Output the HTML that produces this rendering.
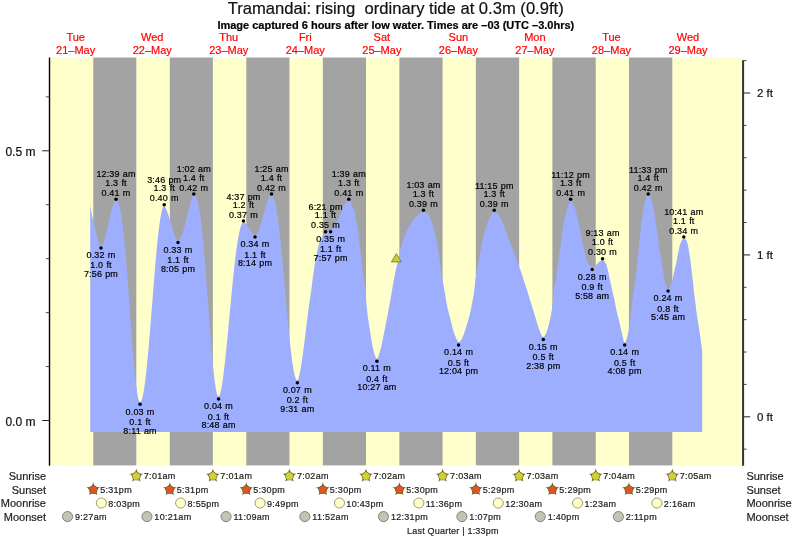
<!DOCTYPE html>
<html><head><meta charset="utf-8"><title>Tramandai tide times</title>
<style>
html,body{margin:0;padding:0;background:#fff;}
body{width:793px;height:539px;overflow:hidden;position:relative;font-family:"Liberation Sans",sans-serif;}
#c{position:absolute;left:0;top:0;width:793px;height:539px;overflow:hidden;}
svg{position:absolute;left:0;top:0;}
.t{position:absolute;white-space:nowrap;-webkit-text-stroke:0.2px currentColor;font-family:"Liberation Sans",sans-serif;}
#tx{position:absolute;left:0;top:0;width:793px;height:539px;will-change:transform;transform:translateZ(0);}
</style></head><body><div id="c">
<svg width="793" height="539" viewBox="0 0 793 539">
<rect x="49.5" y="57.5" width="693.5" height="407.9" fill="#ffffcc"/>
<rect x="93.26" y="57.5" width="43.05" height="407.9" fill="#a3a3a3"/>
<rect x="169.80" y="57.5" width="43.05" height="407.9" fill="#a3a3a3"/>
<rect x="246.29" y="57.5" width="43.16" height="407.9" fill="#a3a3a3"/>
<rect x="322.83" y="57.5" width="43.16" height="407.9" fill="#a3a3a3"/>
<rect x="399.37" y="57.5" width="43.21" height="407.9" fill="#a3a3a3"/>
<rect x="475.86" y="57.5" width="43.27" height="407.9" fill="#a3a3a3"/>
<rect x="552.40" y="57.5" width="43.32" height="407.9" fill="#a3a3a3"/>
<rect x="628.94" y="57.5" width="43.37" height="407.9" fill="#a3a3a3"/>
<path d="M90.20,432.0L90.20,205.23L90.71,208.21L91.23,211.11L91.74,213.79L92.25,216.24L92.76,218.53L93.28,220.74L93.79,222.98L94.30,225.26L94.82,227.54L95.33,229.76L95.84,231.87L96.35,233.92L96.87,235.98L97.38,237.96L97.89,239.73L98.41,241.18L98.92,242.38L99.43,243.57L99.94,244.60L100.46,245.32L100.97,245.59L101.47,245.47L101.97,245.10L102.47,244.50L102.98,243.66L103.48,242.59L103.98,241.32L104.48,239.85L104.98,238.19L105.48,236.37L105.98,234.41L106.49,232.32L106.99,230.13L107.49,227.87L107.99,225.56L108.49,223.22L108.99,220.88L109.49,218.57L110.00,216.31L110.50,214.12L111.00,212.03L111.50,210.07L112.00,208.25L112.50,206.59L113.00,205.12L113.51,203.84L114.01,202.78L114.51,201.94L115.01,201.33L115.51,200.97L116.01,200.85L116.51,200.91L117.01,201.16L117.51,201.64L118.02,202.40L118.52,203.45L119.02,204.81L119.52,206.49L120.02,208.52L120.52,210.89L121.02,213.61L121.52,216.68L122.02,220.11L122.52,223.88L123.02,228.00L123.52,232.45L124.02,237.22L124.52,242.30L125.02,247.68L125.52,253.33L126.02,259.24L126.52,265.37L127.02,271.72L127.52,278.24L128.03,284.92L128.53,291.72L129.03,298.61L129.53,305.55L130.03,312.51L130.53,319.46L131.03,326.36L131.53,333.17L132.03,339.86L132.53,346.39L133.03,352.72L133.53,358.81L134.03,364.63L134.53,370.15L135.03,375.32L135.53,380.12L136.03,384.51L136.53,388.47L137.03,391.97L137.54,394.98L138.04,397.48L138.54,399.45L139.04,400.87L139.54,401.73L140.04,402.02L140.54,401.81L141.05,401.18L141.55,400.14L142.05,398.68L142.56,396.82L143.06,394.57L143.56,391.92L144.07,388.90L144.57,385.52L145.08,381.79L145.58,377.73L146.08,373.35L146.59,368.67L147.09,363.72L147.60,358.51L148.10,353.07L148.60,347.42L149.11,341.59L149.61,335.59L150.11,329.46L150.62,323.23L151.12,316.91L151.63,310.53L152.13,304.13L152.63,297.73L153.14,291.35L153.64,285.03L154.15,278.79L154.65,272.66L155.15,266.67L155.66,260.83L156.16,255.18L156.66,249.74L157.17,244.54L157.67,239.59L158.18,234.91L158.68,230.53L159.18,226.47L159.69,222.74L160.19,219.35L160.70,216.34L161.20,213.69L161.70,211.43L162.21,209.58L162.71,208.12L163.21,207.08L163.72,206.45L164.22,206.24L164.73,206.53L165.24,207.28L165.75,208.32L166.26,209.46L166.77,210.57L167.28,211.81L167.79,213.21L168.30,214.73L168.81,216.30L169.32,217.86L169.83,219.47L170.34,221.16L170.85,222.88L171.36,224.60L171.87,226.31L172.38,228.06L172.89,229.80L173.40,231.48L173.91,233.03L174.42,234.51L174.93,235.93L175.44,237.13L175.95,238.00L176.46,238.81L176.97,239.51L177.48,240.01L177.99,240.20L178.50,240.07L179.01,239.71L179.52,239.18L180.03,238.54L180.54,237.83L181.04,237.02L181.55,235.89L182.06,234.54L182.57,233.08L183.08,231.47L183.59,229.64L184.10,227.69L184.61,225.74L185.12,223.85L185.63,221.95L186.14,220.01L186.65,218.02L187.16,215.93L187.66,213.77L188.17,211.59L188.68,209.42L189.19,207.18L189.70,204.97L190.21,202.93L190.72,201.04L191.23,199.26L191.74,197.91L192.25,197.02L192.76,196.23L193.27,195.67L193.78,195.45L194.28,195.50L194.79,195.71L195.29,196.13L195.80,196.79L196.30,197.72L196.81,198.93L197.31,200.44L197.82,202.26L198.32,204.41L198.83,206.89L199.34,209.71L199.84,212.86L200.35,216.35L200.85,220.18L201.36,224.33L201.86,228.80L202.37,233.58L202.87,238.65L203.38,244.01L203.89,249.63L204.39,255.50L204.90,261.58L205.40,267.87L205.91,274.32L206.41,280.93L206.92,287.65L207.42,294.45L207.93,301.30L208.43,308.18L208.94,315.04L209.45,321.85L209.95,328.57L210.46,335.18L210.96,341.62L211.47,347.87L211.97,353.88L212.48,359.63L212.98,365.08L213.49,370.20L214.00,374.94L214.50,379.29L215.01,383.20L215.51,386.67L216.02,389.65L216.52,392.12L217.03,394.07L217.53,395.48L218.04,396.34L218.54,396.62L219.05,396.23L219.56,395.27L220.07,393.82L220.58,391.94L221.09,389.65L221.60,387.00L222.11,384.00L222.61,380.67L223.12,377.05L223.63,373.16L224.14,369.02L224.65,364.64L225.16,360.06L225.67,355.30L226.18,350.38L226.68,345.32L227.19,340.14L227.70,334.86L228.21,329.51L228.72,324.11L229.23,318.68L229.74,313.24L230.25,307.81L230.75,302.41L231.26,297.06L231.77,291.77L232.28,286.58L232.79,281.49L233.30,276.52L233.81,271.69L234.32,267.01L234.82,262.51L235.33,258.19L235.84,254.06L236.35,250.15L236.86,246.46L237.37,243.00L237.88,239.79L238.39,236.83L238.89,234.13L239.40,231.70L239.91,229.54L240.42,227.66L240.93,226.06L241.44,224.75L241.95,223.73L242.46,223.00L242.96,222.57L243.47,222.42L243.97,222.48L244.48,222.65L244.98,222.93L245.48,223.32L245.98,223.81L246.48,224.39L246.98,225.04L247.49,225.76L247.99,226.54L248.49,227.35L248.99,228.19L249.49,229.04L249.99,229.87L250.49,230.69L251.00,231.46L251.50,232.18L252.00,232.84L252.50,233.42L253.00,233.90L253.50,234.29L254.00,234.57L254.51,234.75L255.01,234.80L255.51,234.71L256.01,234.45L256.51,234.01L257.01,233.39L257.51,232.62L258.01,231.68L258.51,230.59L259.01,229.37L259.52,228.01L260.02,226.54L260.52,224.97L261.02,223.30L261.52,221.56L262.02,219.77L262.52,217.93L263.02,216.06L263.52,214.19L264.02,212.33L264.53,210.49L265.03,208.69L265.53,206.95L266.03,205.29L266.53,203.71L267.03,202.24L267.53,200.89L268.03,199.66L268.53,198.58L269.03,197.64L269.53,196.86L270.04,196.25L270.54,195.81L271.04,195.54L271.54,195.45L272.04,195.57L272.55,195.96L273.06,196.64L273.56,197.62L274.07,198.91L274.58,200.51L275.08,202.41L275.59,204.63L276.10,207.15L276.60,209.97L277.11,213.08L277.62,216.47L278.12,220.14L278.63,224.07L279.14,228.24L279.64,232.66L280.15,237.29L280.66,242.13L281.16,247.15L281.67,252.34L282.17,257.68L282.68,263.15L283.19,268.73L283.69,274.39L284.20,280.12L284.71,285.89L285.21,291.68L285.72,297.46L286.23,303.22L286.73,308.93L287.24,314.56L287.75,320.10L288.25,325.51L288.76,330.79L289.27,335.90L289.77,340.82L290.28,345.54L290.79,350.03L291.29,354.27L291.80,358.25L292.31,361.95L292.81,365.35L293.32,368.43L293.82,371.19L294.33,373.61L294.84,375.67L295.34,377.38L295.85,378.71L296.36,379.67L296.86,380.25L297.37,380.44L297.87,379.98L298.38,378.73L298.88,376.93L299.38,374.79L299.89,372.54L300.39,370.25L300.89,367.48L301.39,364.26L301.90,360.75L302.40,357.07L302.90,353.35L303.41,349.70L303.91,345.90L304.41,341.96L304.92,337.93L305.42,333.86L305.92,329.82L306.43,325.67L306.93,321.45L307.43,317.25L307.93,313.20L308.44,309.39L308.94,305.86L309.44,302.53L309.95,299.26L310.45,295.97L310.95,292.52L311.46,288.80L311.96,284.64L312.46,280.40L312.96,276.54L313.47,272.98L313.97,269.53L314.47,266.21L314.98,263.06L315.48,260.10L315.98,257.38L316.49,254.90L316.99,252.50L317.49,250.17L318.00,247.94L318.50,245.87L319.00,244.00L319.50,242.37L320.01,241.03L320.51,239.95L321.01,238.91L321.52,237.91L322.02,236.95L322.52,236.07L323.03,235.27L323.53,234.58L324.03,234.01L324.54,233.58L325.04,233.30L325.54,233.21L326.05,233.12L326.56,232.85L327.07,232.43L327.58,231.90L328.09,231.31L328.60,230.72L329.11,230.19L329.62,229.77L330.13,229.50L330.64,229.41L331.15,229.36L331.65,229.19L332.16,228.92L332.66,228.55L333.17,228.07L333.67,227.50L334.18,226.83L334.68,226.07L335.19,225.23L335.69,224.31L336.20,223.32L336.70,222.27L337.21,221.16L337.71,220.01L338.22,218.82L338.72,217.61L339.23,216.37L339.73,215.13L340.24,213.88L340.74,212.65L341.25,211.43L341.75,210.24L342.26,209.09L342.76,207.99L343.27,206.94L343.77,205.95L344.28,205.03L344.78,204.19L345.29,203.43L345.79,202.76L346.30,202.18L346.80,201.71L347.31,201.33L347.81,201.06L348.32,200.90L348.82,200.85L349.32,200.98L349.82,201.38L350.33,201.99L350.83,202.81L351.33,203.79L351.83,204.91L352.33,206.15L352.83,207.46L353.33,208.83L353.83,210.22L354.33,211.74L354.84,213.59L355.34,215.74L355.84,218.16L356.34,220.81L356.84,223.65L357.34,226.66L357.84,229.80L358.34,233.21L358.85,237.28L359.35,241.76L359.85,246.36L360.35,250.77L360.85,254.94L361.35,259.08L361.85,263.18L362.35,267.24L362.85,271.24L363.36,275.05L363.86,278.66L364.36,282.29L364.86,286.18L365.36,290.57L365.86,296.10L366.36,302.31L366.86,308.11L367.36,312.68L367.87,316.66L368.37,320.30L368.87,323.67L369.37,326.88L369.87,330.00L370.37,333.13L370.87,336.31L371.37,339.46L371.88,342.49L372.38,345.31L372.88,347.86L373.38,350.03L373.88,351.80L374.38,353.50L374.88,355.13L375.38,356.60L375.88,357.78L376.39,358.58L376.89,358.87L377.39,358.55L377.89,357.68L378.39,356.41L378.89,354.87L379.39,353.20L379.89,351.55L380.39,349.89L380.89,348.00L381.39,345.91L381.89,343.66L382.39,341.28L382.89,338.81L383.40,336.30L383.90,333.79L384.40,331.30L384.90,328.84L385.40,326.32L385.90,323.74L386.40,321.11L386.90,318.45L387.40,315.77L387.90,313.08L388.40,310.39L388.90,307.69L389.40,304.96L389.90,302.21L390.40,299.44L390.91,296.65L391.41,293.83L391.91,290.93L392.41,288.00L392.91,285.10L393.41,282.30L393.91,279.61L394.41,277.00L394.91,274.47L395.41,272.02L395.91,269.69L396.41,267.47L396.91,265.30L397.41,263.12L397.91,260.88L398.42,258.50L398.92,256.08L399.42,253.72L399.92,251.54L400.42,249.55L400.92,247.64L401.42,245.83L401.92,244.11L402.42,242.47L402.92,240.94L403.42,239.47L403.92,238.05L404.42,236.68L404.92,235.36L405.42,234.11L405.93,232.92L406.43,231.80L406.93,230.75L407.43,229.75L407.93,228.79L408.43,227.86L408.93,226.96L409.43,226.10L409.93,225.26L410.43,224.46L410.93,223.68L411.43,222.93L411.93,222.20L412.43,221.50L412.93,220.82L413.44,220.16L413.94,219.51L414.44,218.87L414.94,218.25L415.44,217.65L415.94,217.07L416.44,216.51L416.94,215.99L417.44,215.50L417.94,215.04L418.44,214.62L418.94,214.23L419.44,213.83L419.94,213.42L420.44,213.03L420.95,212.66L421.45,212.32L421.95,212.04L422.45,211.82L422.95,211.68L423.45,211.63L423.95,211.68L424.45,211.80L424.95,212.00L425.46,212.26L425.96,212.58L426.46,212.95L426.96,213.36L427.46,213.81L427.97,214.27L428.47,214.80L428.97,215.54L429.47,216.49L429.97,217.59L430.48,218.79L430.98,220.04L431.48,221.32L431.98,222.74L432.48,224.29L432.98,225.96L433.49,227.74L433.99,229.60L434.49,231.56L434.99,233.72L435.49,236.05L436.00,238.49L436.50,240.99L437.00,243.54L437.50,246.18L438.00,248.93L438.51,251.82L439.01,254.89L439.51,258.12L440.01,261.48L440.51,265.07L441.02,268.81L441.52,272.43L442.02,275.97L442.52,279.40L443.02,282.53L443.53,285.32L444.03,287.97L444.53,290.74L445.03,293.73L445.53,296.84L446.03,299.94L446.54,302.91L447.04,305.61L447.54,307.96L448.04,310.07L448.54,312.04L449.05,313.99L449.55,315.98L450.05,317.95L450.55,319.90L451.05,321.84L451.56,323.82L452.06,325.89L452.56,327.95L453.06,329.86L453.56,331.50L454.07,332.95L454.57,334.27L455.07,335.51L455.57,336.71L456.07,337.92L456.57,339.12L457.08,340.14L457.58,341.11L458.08,341.94L458.58,342.28L459.08,342.15L459.59,341.78L460.09,341.26L460.59,340.64L461.09,340.01L461.60,339.26L462.10,338.33L462.60,337.28L463.10,336.10L463.61,334.77L464.11,333.34L464.61,331.86L465.11,330.36L465.62,328.79L466.12,327.15L466.62,325.46L467.12,323.75L467.62,322.04L468.13,320.33L468.63,318.60L469.13,316.79L469.63,314.86L470.14,312.78L470.64,310.54L471.14,308.17L471.64,305.68L472.15,303.04L472.65,300.24L473.15,297.33L473.65,294.42L474.15,291.11L474.66,286.40L475.16,281.33L475.66,277.75L476.16,274.69L476.67,271.80L477.17,268.97L477.67,266.31L478.17,263.69L478.68,260.98L479.18,258.13L479.68,255.23L480.18,252.38L480.69,249.67L481.19,247.00L481.69,244.42L482.19,241.96L482.69,239.67L483.20,237.48L483.70,235.38L484.20,233.39L484.70,231.50L485.21,229.71L485.71,227.94L486.21,226.22L486.71,224.57L487.22,223.06L487.72,221.71L488.22,220.56L488.72,219.51L489.22,218.45L489.73,217.40L490.23,216.39L490.73,215.43L491.23,214.53L491.74,213.72L492.24,213.02L492.74,212.44L493.24,212.01L493.75,211.73L494.25,211.63L494.75,211.69L495.25,211.87L495.75,212.15L496.25,212.53L496.75,212.99L497.25,213.54L497.75,214.15L498.25,214.83L498.75,215.56L499.25,216.33L499.75,217.13L500.26,217.97L500.76,218.81L501.26,219.67L501.76,220.53L502.26,221.47L502.76,222.61L503.26,223.89L503.76,225.28L504.26,226.73L504.76,228.19L505.26,229.61L505.76,230.96L506.26,232.27L506.76,233.58L507.26,234.89L507.76,236.20L508.27,237.51L508.77,238.82L509.27,240.13L509.77,241.44L510.27,242.74L510.77,244.05L511.27,245.35L511.77,246.66L512.27,247.96L512.77,249.28L513.27,250.60L513.77,251.92L514.27,253.25L514.77,254.59L515.27,255.93L515.77,257.27L516.28,258.62L516.78,259.98L517.28,261.34L517.78,262.69L518.28,264.04L518.78,265.40L519.28,266.76L519.78,268.14L520.28,269.54L520.78,270.96L521.28,272.43L521.78,273.94L522.28,275.49L522.78,277.06L523.28,278.63L523.78,280.20L524.28,281.75L524.79,283.27L525.29,284.78L525.79,286.28L526.29,287.79L526.79,289.34L527.29,290.92L527.79,292.54L528.29,294.19L528.79,295.85L529.29,297.51L529.79,299.16L530.29,300.81L530.79,302.46L531.29,304.11L531.79,305.74L532.29,307.34L532.80,308.91L533.30,310.47L533.80,312.03L534.30,313.62L534.80,315.26L535.30,316.98L535.80,318.73L536.30,320.48L536.80,322.16L537.30,323.75L537.80,325.30L538.30,326.82L538.80,328.28L539.30,329.68L539.80,331.01L540.30,332.30L540.81,333.51L541.31,334.51L541.81,335.39L542.31,336.22L542.81,336.85L543.31,337.09L543.81,336.86L544.32,336.27L544.83,335.48L545.33,334.61L545.84,333.67L546.34,332.49L546.85,331.14L547.36,329.64L547.86,327.93L548.37,326.07L548.87,324.10L549.38,322.07L549.89,319.95L550.39,317.65L550.90,315.14L551.40,312.43L551.91,309.36L552.41,305.30L552.92,299.10L553.43,293.40L553.93,289.14L554.44,286.57L554.94,284.49L555.45,282.08L555.96,278.75L556.46,274.87L556.97,271.12L557.47,267.67L557.98,264.29L558.49,260.79L558.99,257.10L559.50,253.37L560.00,249.80L560.51,246.46L561.02,243.07L561.52,239.22L562.03,234.75L562.53,230.55L563.04,226.94L563.55,224.31L564.05,222.24L564.56,220.15L565.06,217.86L565.57,215.56L566.08,213.33L566.58,211.11L567.09,208.99L567.59,207.10L568.10,205.38L568.60,204.17L569.11,203.12L569.62,202.22L570.12,201.59L570.63,201.35L571.13,201.49L571.63,201.89L572.13,202.48L572.64,203.21L573.14,204.01L573.64,204.85L574.14,205.98L574.64,207.35L575.15,208.85L575.65,210.54L576.15,212.38L576.65,214.30L577.15,216.29L577.65,218.40L578.16,220.66L578.66,223.16L579.16,225.79L579.66,228.48L580.16,231.13L580.67,233.65L581.17,236.11L581.67,238.51L582.17,240.87L582.67,243.19L583.18,245.49L583.68,247.73L584.18,249.88L584.68,251.94L585.18,254.06L585.68,256.18L586.19,258.16L586.69,259.87L587.19,261.18L587.69,262.12L588.19,263.02L588.70,263.87L589.20,264.65L589.70,265.36L590.20,265.97L590.70,266.47L591.20,266.85L591.71,267.09L592.21,267.17L592.73,267.12L593.25,267.00L593.76,266.79L594.28,266.50L594.80,266.14L595.32,265.73L595.84,265.26L596.35,264.75L596.87,264.22L597.39,263.67L597.91,263.13L598.43,262.59L598.95,262.09L599.46,261.62L599.98,261.20L600.50,260.85L601.02,260.56L601.54,260.35L602.06,260.22L602.57,260.18L603.07,260.28L603.58,260.56L604.08,261.00L604.58,261.57L605.08,262.24L605.58,263.00L606.08,263.84L606.58,265.19L607.09,267.00L607.59,269.05L608.09,271.15L608.59,273.24L609.09,275.54L609.59,277.94L610.09,280.36L610.59,282.70L611.10,285.02L611.60,287.34L612.10,289.64L612.60,291.89L613.10,294.05L613.60,296.19L614.10,298.38L614.61,300.70L615.11,303.25L615.61,305.92L616.11,308.52L616.61,310.90L617.11,313.05L617.61,315.08L618.11,317.05L618.62,319.03L619.12,321.09L619.62,323.23L620.12,325.41L620.62,327.58L621.12,329.68L621.62,331.73L622.13,334.05L622.63,336.50L623.13,338.84L623.63,340.81L624.13,342.17L624.63,342.68L625.14,342.41L625.64,341.64L626.14,340.45L626.64,338.90L627.15,337.06L627.65,335.01L628.15,332.81L628.66,330.53L629.16,327.34L629.66,323.32L630.17,319.25L630.67,314.98L631.17,310.62L631.68,306.29L632.18,302.00L632.68,297.92L633.19,293.98L633.69,290.39L634.19,287.35L634.70,284.44L635.20,281.06L635.70,276.87L636.21,272.40L636.71,268.19L637.21,263.97L637.72,259.31L638.22,254.11L638.72,248.93L639.23,243.79L639.73,238.63L640.23,233.44L640.74,228.51L641.24,223.75L641.74,219.75L642.25,216.71L642.75,213.81L643.25,210.81L643.76,207.75L644.26,204.40L644.76,201.50L645.27,199.26L645.77,198.09L646.27,197.22L646.78,196.49L647.28,195.93L647.78,195.58L648.28,195.45L648.79,195.60L649.30,196.01L649.81,196.62L650.31,197.39L650.82,198.27L651.33,199.41L651.83,201.18L652.34,203.14L652.85,205.40L653.35,207.87L653.86,210.59L654.37,213.59L654.88,216.83L655.38,220.28L655.89,223.77L656.40,227.31L656.90,230.83L657.41,234.26L657.92,237.68L658.42,241.17L658.93,244.88L659.44,248.65L659.95,252.18L660.45,255.49L660.96,258.68L661.47,261.81L661.97,264.95L662.48,268.03L662.99,270.97L663.49,273.83L664.00,276.72L664.51,279.37L665.02,281.51L665.52,283.21L666.03,284.87L666.54,286.38L667.04,287.61L667.55,288.44L668.06,288.74L668.57,288.54L669.07,287.96L669.58,287.09L670.09,285.98L670.60,284.71L671.10,283.34L671.61,281.94L672.12,280.34L672.63,278.29L673.13,276.09L673.64,274.01L674.15,271.89L674.66,269.73L675.16,267.51L675.67,265.24L676.18,262.90L676.69,260.49L677.19,258.01L677.70,255.49L678.21,252.85L678.72,250.36L679.22,248.00L679.73,245.76L680.24,244.05L680.75,242.87L681.25,241.75L681.76,240.73L682.27,239.87L682.78,239.20L683.28,238.76L683.79,238.60L684.30,238.68L684.81,238.88L685.33,239.21L685.84,239.64L686.35,240.16L686.86,241.28L687.37,243.04L687.88,245.12L688.39,247.87L688.90,250.79L689.42,253.76L689.93,257.02L690.44,260.79L690.95,264.71L691.46,268.78L691.97,273.39L692.48,277.64L693.00,281.66L693.51,286.91L694.02,292.16L694.53,296.35L695.04,300.33L695.55,304.51L696.06,308.62L696.58,312.37L697.09,315.87L697.60,319.21L698.11,322.46L698.62,325.70L699.13,329.01L699.64,332.46L700.15,336.02L700.67,339.64L701.18,343.25L701.69,346.79L702.20,350.20L702.20,432.0Z" fill="#9daeff"/>
<line x1="49.5" y1="57.5" x2="49.5" y2="465.7" stroke="#000" stroke-width="1.4"/>
<line x1="743.1" y1="60.2" x2="743.1" y2="465.7" stroke="#333" stroke-width="2.0"/>
<line x1="42.2" y1="420.50" x2="49.5" y2="420.50" stroke="#222" stroke-width="1.0"/>
<line x1="45.8" y1="366.56" x2="49.5" y2="366.56" stroke="#222" stroke-width="0.8"/>
<line x1="45.8" y1="312.62" x2="49.5" y2="312.62" stroke="#222" stroke-width="0.8"/>
<line x1="45.8" y1="258.68" x2="49.5" y2="258.68" stroke="#222" stroke-width="0.8"/>
<line x1="45.8" y1="204.74" x2="49.5" y2="204.74" stroke="#222" stroke-width="0.8"/>
<line x1="42.2" y1="150.80" x2="49.5" y2="150.80" stroke="#222" stroke-width="1.0"/>
<line x1="45.8" y1="96.86" x2="49.5" y2="96.86" stroke="#222" stroke-width="0.8"/>
<line x1="743.4" y1="449.18" x2="746.6" y2="449.18" stroke="#333" stroke-width="0.9"/>
<line x1="743.4" y1="416.80" x2="750.2" y2="416.80" stroke="#333" stroke-width="1.1"/>
<line x1="743.4" y1="384.42" x2="746.6" y2="384.42" stroke="#333" stroke-width="0.9"/>
<line x1="743.4" y1="352.04" x2="746.6" y2="352.04" stroke="#333" stroke-width="0.9"/>
<line x1="743.4" y1="319.66" x2="746.6" y2="319.66" stroke="#333" stroke-width="0.9"/>
<line x1="743.4" y1="287.28" x2="746.6" y2="287.28" stroke="#333" stroke-width="0.9"/>
<line x1="743.4" y1="254.90" x2="750.2" y2="254.90" stroke="#333" stroke-width="1.1"/>
<line x1="743.4" y1="222.52" x2="746.6" y2="222.52" stroke="#333" stroke-width="0.9"/>
<line x1="743.4" y1="190.14" x2="746.6" y2="190.14" stroke="#333" stroke-width="0.9"/>
<line x1="743.4" y1="157.76" x2="746.6" y2="157.76" stroke="#333" stroke-width="0.9"/>
<line x1="743.4" y1="125.38" x2="746.6" y2="125.38" stroke="#333" stroke-width="0.9"/>
<line x1="743.4" y1="93.00" x2="750.2" y2="93.00" stroke="#333" stroke-width="1.1"/>
<line x1="743.4" y1="60.62" x2="746.6" y2="60.62" stroke="#333" stroke-width="0.9"/>
<path d="M396.3,253.6L401.3,261.9L391.4,261.9Z" fill="#cccc33" stroke="#666633" stroke-width="0.7"/>
<circle cx="100.97" cy="247.89" r="1.75" fill="#000"/>
<circle cx="116.01" cy="199.35" r="1.75" fill="#000"/>
<circle cx="140.04" cy="404.32" r="1.75" fill="#000"/>
<circle cx="164.22" cy="204.74" r="1.75" fill="#000"/>
<circle cx="177.99" cy="242.50" r="1.75" fill="#000"/>
<circle cx="193.78" cy="193.95" r="1.75" fill="#000"/>
<circle cx="218.54" cy="398.92" r="1.75" fill="#000"/>
<circle cx="243.47" cy="220.92" r="1.75" fill="#000"/>
<circle cx="255.01" cy="237.10" r="1.75" fill="#000"/>
<circle cx="271.54" cy="193.95" r="1.75" fill="#000"/>
<circle cx="297.37" cy="382.74" r="1.75" fill="#000"/>
<circle cx="325.54" cy="231.71" r="1.75" fill="#000"/>
<circle cx="330.64" cy="231.71" r="1.75" fill="#000"/>
<circle cx="348.82" cy="199.35" r="1.75" fill="#000"/>
<circle cx="376.89" cy="361.17" r="1.75" fill="#000"/>
<circle cx="423.45" cy="210.13" r="1.75" fill="#000"/>
<circle cx="458.58" cy="344.98" r="1.75" fill="#000"/>
<circle cx="494.25" cy="210.13" r="1.75" fill="#000"/>
<circle cx="543.31" cy="339.59" r="1.75" fill="#000"/>
<circle cx="570.63" cy="199.35" r="1.75" fill="#000"/>
<circle cx="592.21" cy="269.47" r="1.75" fill="#000"/>
<circle cx="602.57" cy="258.68" r="1.75" fill="#000"/>
<circle cx="624.63" cy="344.98" r="1.75" fill="#000"/>
<circle cx="648.28" cy="193.95" r="1.75" fill="#000"/>
<circle cx="668.06" cy="291.04" r="1.75" fill="#000"/>
<circle cx="683.79" cy="237.10" r="1.75" fill="#000"/>
<path d="M136.32,468.70L137.90,473.72L143.16,473.68L138.89,476.73L140.55,481.72L136.32,478.60L132.09,481.72L133.75,476.73L129.47,473.68L134.73,473.72Z" fill="#66661a"/>
<path d="M136.32,472.30L139.98,474.96L138.58,479.26L134.05,479.26L132.66,474.96Z" fill="#6a5a1e" stroke="#6a5a1e" stroke-width="2.2" stroke-linejoin="round"/>
<path d="M136.32,472.30L139.98,474.96L138.58,479.26L134.05,479.26L132.66,474.96Z" fill="#cfcf38" stroke="#cfcf38" stroke-width="1.0" stroke-linejoin="round"/>
<path d="M212.86,468.70L214.44,473.72L219.70,473.68L215.43,476.73L217.09,481.72L212.86,478.60L208.63,481.72L210.29,476.73L206.01,473.68L211.27,473.72Z" fill="#66661a"/>
<path d="M212.86,472.30L216.52,474.96L215.12,479.26L210.59,479.26L209.20,474.96Z" fill="#6a5a1e" stroke="#6a5a1e" stroke-width="2.2" stroke-linejoin="round"/>
<path d="M212.86,472.30L216.52,474.96L215.12,479.26L210.59,479.26L209.20,474.96Z" fill="#cfcf38" stroke="#cfcf38" stroke-width="1.0" stroke-linejoin="round"/>
<path d="M289.45,468.70L291.04,473.72L296.30,473.68L292.02,476.73L293.68,481.72L289.45,478.60L285.22,481.72L286.88,476.73L282.60,473.68L287.86,473.72Z" fill="#66661a"/>
<path d="M289.45,472.30L293.11,474.96L291.71,479.26L287.19,479.26L285.79,474.96Z" fill="#6a5a1e" stroke="#6a5a1e" stroke-width="2.2" stroke-linejoin="round"/>
<path d="M289.45,472.30L293.11,474.96L291.71,479.26L287.19,479.26L285.79,474.96Z" fill="#cfcf38" stroke="#cfcf38" stroke-width="1.0" stroke-linejoin="round"/>
<path d="M365.99,468.70L367.58,473.72L372.84,473.68L368.56,476.73L370.22,481.72L365.99,478.60L361.76,481.72L363.42,476.73L359.14,473.68L364.40,473.72Z" fill="#66661a"/>
<path d="M365.99,472.30L369.65,474.96L368.25,479.26L363.73,479.26L362.33,474.96Z" fill="#6a5a1e" stroke="#6a5a1e" stroke-width="2.2" stroke-linejoin="round"/>
<path d="M365.99,472.30L369.65,474.96L368.25,479.26L363.73,479.26L362.33,474.96Z" fill="#cfcf38" stroke="#cfcf38" stroke-width="1.0" stroke-linejoin="round"/>
<path d="M442.58,468.70L444.17,473.72L449.43,473.68L445.15,476.73L446.82,481.72L442.58,478.60L438.35,481.72L440.02,476.73L435.74,473.68L441.00,473.72Z" fill="#66661a"/>
<path d="M442.58,472.30L446.25,474.96L444.85,479.26L440.32,479.26L438.92,474.96Z" fill="#6a5a1e" stroke="#6a5a1e" stroke-width="2.2" stroke-linejoin="round"/>
<path d="M442.58,472.30L446.25,474.96L444.85,479.26L440.32,479.26L438.92,474.96Z" fill="#cfcf38" stroke="#cfcf38" stroke-width="1.0" stroke-linejoin="round"/>
<path d="M519.12,468.70L520.71,473.72L525.97,473.68L521.69,476.73L523.36,481.72L519.12,478.60L514.89,481.72L516.56,476.73L512.28,473.68L517.54,473.72Z" fill="#66661a"/>
<path d="M519.12,472.30L522.79,474.96L521.39,479.26L516.86,479.26L515.46,474.96Z" fill="#6a5a1e" stroke="#6a5a1e" stroke-width="2.2" stroke-linejoin="round"/>
<path d="M519.12,472.30L522.79,474.96L521.39,479.26L516.86,479.26L515.46,474.96Z" fill="#cfcf38" stroke="#cfcf38" stroke-width="1.0" stroke-linejoin="round"/>
<path d="M595.72,468.70L597.30,473.72L602.56,473.68L598.28,476.73L599.95,481.72L595.72,478.60L591.48,481.72L593.15,476.73L588.87,473.68L594.13,473.72Z" fill="#66661a"/>
<path d="M595.72,472.30L599.38,474.96L597.98,479.26L593.45,479.26L592.06,474.96Z" fill="#6a5a1e" stroke="#6a5a1e" stroke-width="2.2" stroke-linejoin="round"/>
<path d="M595.72,472.30L599.38,474.96L597.98,479.26L593.45,479.26L592.06,474.96Z" fill="#cfcf38" stroke="#cfcf38" stroke-width="1.0" stroke-linejoin="round"/>
<path d="M672.31,468.70L673.90,473.72L679.16,473.68L674.88,476.73L676.54,481.72L672.31,478.60L668.08,481.72L669.74,476.73L665.46,473.68L670.72,473.72Z" fill="#66661a"/>
<path d="M672.31,472.30L675.97,474.96L674.57,479.26L670.05,479.26L668.65,474.96Z" fill="#6a5a1e" stroke="#6a5a1e" stroke-width="2.2" stroke-linejoin="round"/>
<path d="M672.31,472.30L675.97,474.96L674.57,479.26L670.05,479.26L668.65,474.96Z" fill="#cfcf38" stroke="#cfcf38" stroke-width="1.0" stroke-linejoin="round"/>
<path d="M93.26,482.20L94.85,487.22L100.11,487.18L95.83,490.23L97.50,495.22L93.26,492.10L89.03,495.22L90.70,490.23L86.42,487.18L91.68,487.22Z" fill="#66661a"/>
<path d="M93.26,485.80L96.93,488.46L95.53,492.76L91.00,492.76L89.60,488.46Z" fill="#6a5a1e" stroke="#6a5a1e" stroke-width="2.2" stroke-linejoin="round"/>
<path d="M93.26,485.80L96.93,488.46L95.53,492.76L91.00,492.76L89.60,488.46Z" fill="#dd5526" stroke="#dd5526" stroke-width="1.0" stroke-linejoin="round"/>
<path d="M169.80,482.20L171.39,487.22L176.65,487.18L172.37,490.23L174.04,495.22L169.80,492.10L165.57,495.22L167.24,490.23L162.96,487.18L168.22,487.22Z" fill="#66661a"/>
<path d="M169.80,485.80L173.47,488.46L172.07,492.76L167.54,492.76L166.14,488.46Z" fill="#6a5a1e" stroke="#6a5a1e" stroke-width="2.2" stroke-linejoin="round"/>
<path d="M169.80,485.80L173.47,488.46L172.07,492.76L167.54,492.76L166.14,488.46Z" fill="#dd5526" stroke="#dd5526" stroke-width="1.0" stroke-linejoin="round"/>
<path d="M246.29,482.20L247.88,487.22L253.14,487.18L248.86,490.23L250.52,495.22L246.29,492.10L242.06,495.22L243.72,490.23L239.44,487.18L244.70,487.22Z" fill="#66661a"/>
<path d="M246.29,485.80L249.95,488.46L248.55,492.76L244.03,492.76L242.63,488.46Z" fill="#6a5a1e" stroke="#6a5a1e" stroke-width="2.2" stroke-linejoin="round"/>
<path d="M246.29,485.80L249.95,488.46L248.55,492.76L244.03,492.76L242.63,488.46Z" fill="#dd5526" stroke="#dd5526" stroke-width="1.0" stroke-linejoin="round"/>
<path d="M322.83,482.20L324.42,487.22L329.68,487.18L325.40,490.23L327.06,495.22L322.83,492.10L318.60,495.22L320.26,490.23L315.98,487.18L321.24,487.22Z" fill="#66661a"/>
<path d="M322.83,485.80L326.49,488.46L325.09,492.76L320.57,492.76L319.17,488.46Z" fill="#6a5a1e" stroke="#6a5a1e" stroke-width="2.2" stroke-linejoin="round"/>
<path d="M322.83,485.80L326.49,488.46L325.09,492.76L320.57,492.76L319.17,488.46Z" fill="#dd5526" stroke="#dd5526" stroke-width="1.0" stroke-linejoin="round"/>
<path d="M399.37,482.20L400.96,487.22L406.22,487.18L401.94,490.23L403.60,495.22L399.37,492.10L395.14,495.22L396.80,490.23L392.52,487.18L397.78,487.22Z" fill="#66661a"/>
<path d="M399.37,485.80L403.03,488.46L401.63,492.76L397.11,492.76L395.71,488.46Z" fill="#6a5a1e" stroke="#6a5a1e" stroke-width="2.2" stroke-linejoin="round"/>
<path d="M399.37,485.80L403.03,488.46L401.63,492.76L397.11,492.76L395.71,488.46Z" fill="#dd5526" stroke="#dd5526" stroke-width="1.0" stroke-linejoin="round"/>
<path d="M475.86,482.20L477.44,487.22L482.70,487.18L478.43,490.23L480.09,495.22L475.86,492.10L471.63,495.22L473.29,490.23L469.01,487.18L474.27,487.22Z" fill="#66661a"/>
<path d="M475.86,485.80L479.52,488.46L478.12,492.76L473.59,492.76L472.20,488.46Z" fill="#6a5a1e" stroke="#6a5a1e" stroke-width="2.2" stroke-linejoin="round"/>
<path d="M475.86,485.80L479.52,488.46L478.12,492.76L473.59,492.76L472.20,488.46Z" fill="#dd5526" stroke="#dd5526" stroke-width="1.0" stroke-linejoin="round"/>
<path d="M552.40,482.20L553.98,487.22L559.24,487.18L554.97,490.23L556.63,495.22L552.40,492.10L548.17,495.22L549.83,490.23L545.55,487.18L550.81,487.22Z" fill="#66661a"/>
<path d="M552.40,485.80L556.06,488.46L554.66,492.76L550.13,492.76L548.74,488.46Z" fill="#6a5a1e" stroke="#6a5a1e" stroke-width="2.2" stroke-linejoin="round"/>
<path d="M552.40,485.80L556.06,488.46L554.66,492.76L550.13,492.76L548.74,488.46Z" fill="#dd5526" stroke="#dd5526" stroke-width="1.0" stroke-linejoin="round"/>
<path d="M628.94,482.20L630.52,487.22L635.78,487.18L631.51,490.23L633.17,495.22L628.94,492.10L624.71,495.22L626.37,490.23L622.09,487.18L627.35,487.22Z" fill="#66661a"/>
<path d="M628.94,485.80L632.60,488.46L631.20,492.76L626.67,492.76L625.28,488.46Z" fill="#6a5a1e" stroke="#6a5a1e" stroke-width="2.2" stroke-linejoin="round"/>
<path d="M628.94,485.80L632.60,488.46L631.20,492.76L626.67,492.76L625.28,488.46Z" fill="#dd5526" stroke="#dd5526" stroke-width="1.0" stroke-linejoin="round"/>
<circle cx="101.34" cy="503.0" r="5.05" fill="#ffffcc" stroke="#98986e" stroke-width="0.95"/>
<circle cx="180.65" cy="503.0" r="5.05" fill="#ffffcc" stroke="#98986e" stroke-width="0.95"/>
<circle cx="260.06" cy="503.0" r="5.05" fill="#ffffcc" stroke="#98986e" stroke-width="0.95"/>
<circle cx="339.47" cy="503.0" r="5.05" fill="#ffffcc" stroke="#98986e" stroke-width="0.95"/>
<circle cx="418.82" cy="503.0" r="5.05" fill="#ffffcc" stroke="#98986e" stroke-width="0.95"/>
<circle cx="498.23" cy="503.0" r="5.05" fill="#ffffcc" stroke="#98986e" stroke-width="0.95"/>
<circle cx="577.59" cy="503.0" r="5.05" fill="#ffffcc" stroke="#98986e" stroke-width="0.95"/>
<circle cx="656.95" cy="503.0" r="5.05" fill="#ffffcc" stroke="#98986e" stroke-width="0.95"/>
<circle cx="67.54" cy="516.6" r="5.05" fill="#c4c4b4" stroke="#7c7c72" stroke-width="0.95"/>
<circle cx="146.95" cy="516.6" r="5.05" fill="#c4c4b4" stroke="#7c7c72" stroke-width="0.95"/>
<circle cx="226.04" cy="516.6" r="5.05" fill="#c4c4b4" stroke="#7c7c72" stroke-width="0.95"/>
<circle cx="304.86" cy="516.6" r="5.05" fill="#c4c4b4" stroke="#7c7c72" stroke-width="0.95"/>
<circle cx="383.48" cy="516.6" r="5.05" fill="#c4c4b4" stroke="#7c7c72" stroke-width="0.95"/>
<circle cx="461.93" cy="516.6" r="5.05" fill="#c4c4b4" stroke="#7c7c72" stroke-width="0.95"/>
<circle cx="540.23" cy="516.6" r="5.05" fill="#c4c4b4" stroke="#7c7c72" stroke-width="0.95"/>
<circle cx="618.41" cy="516.6" r="5.05" fill="#c4c4b4" stroke="#7c7c72" stroke-width="0.95"/>
</svg>
<div id="tx">
<div class="t" style="top:1.40px;font-size:16.6px;line-height:16.6px;color:#111;left:-4.30px;width:800px;text-align:center;">Tramandai: rising&nbsp; ordinary tide at 0.3m (0.9ft)</div>
<div class="t" style="top:20.00px;font-size:11px;line-height:11px;color:#000;font-weight:bold;left:-4.20px;width:800px;text-align:center;">Image captured 6 hours after low water. Times are &ndash;03 (UTC &ndash;3.0hrs)</div>
<div class="t" style="top:32.10px;font-size:11px;line-height:11px;color:#ff0000;left:-324.33px;width:800px;text-align:center;">Tue</div>
<div class="t" style="top:45.20px;font-size:11px;line-height:11px;color:#ff0000;left:-324.33px;width:800px;text-align:center;">21&ndash;May</div>
<div class="t" style="top:32.10px;font-size:11px;line-height:11px;color:#ff0000;left:-247.79px;width:800px;text-align:center;">Wed</div>
<div class="t" style="top:45.20px;font-size:11px;line-height:11px;color:#ff0000;left:-247.79px;width:800px;text-align:center;">22&ndash;May</div>
<div class="t" style="top:32.10px;font-size:11px;line-height:11px;color:#ff0000;left:-171.25px;width:800px;text-align:center;">Thu</div>
<div class="t" style="top:45.20px;font-size:11px;line-height:11px;color:#ff0000;left:-171.25px;width:800px;text-align:center;">23&ndash;May</div>
<div class="t" style="top:32.10px;font-size:11px;line-height:11px;color:#ff0000;left:-94.71px;width:800px;text-align:center;">Fri</div>
<div class="t" style="top:45.20px;font-size:11px;line-height:11px;color:#ff0000;left:-94.71px;width:800px;text-align:center;">24&ndash;May</div>
<div class="t" style="top:32.10px;font-size:11px;line-height:11px;color:#ff0000;left:-18.17px;width:800px;text-align:center;">Sat</div>
<div class="t" style="top:45.20px;font-size:11px;line-height:11px;color:#ff0000;left:-18.17px;width:800px;text-align:center;">25&ndash;May</div>
<div class="t" style="top:32.10px;font-size:11px;line-height:11px;color:#ff0000;left:58.37px;width:800px;text-align:center;">Sun</div>
<div class="t" style="top:45.20px;font-size:11px;line-height:11px;color:#ff0000;left:58.37px;width:800px;text-align:center;">26&ndash;May</div>
<div class="t" style="top:32.10px;font-size:11px;line-height:11px;color:#ff0000;left:134.91px;width:800px;text-align:center;">Mon</div>
<div class="t" style="top:45.20px;font-size:11px;line-height:11px;color:#ff0000;left:134.91px;width:800px;text-align:center;">27&ndash;May</div>
<div class="t" style="top:32.10px;font-size:11px;line-height:11px;color:#ff0000;left:211.45px;width:800px;text-align:center;">Tue</div>
<div class="t" style="top:45.20px;font-size:11px;line-height:11px;color:#ff0000;left:211.45px;width:800px;text-align:center;">28&ndash;May</div>
<div class="t" style="top:32.10px;font-size:11px;line-height:11px;color:#ff0000;left:287.99px;width:800px;text-align:center;">Wed</div>
<div class="t" style="top:45.20px;font-size:11px;line-height:11px;color:#ff0000;left:287.99px;width:800px;text-align:center;">29&ndash;May</div>
<div class="t" style="top:146.00px;font-size:12px;line-height:12px;color:#111;left:5.40px;">0.5 m</div>
<div class="t" style="top:416.00px;font-size:12px;line-height:12px;color:#111;left:5.40px;">0.0 m</div>
<div class="t" style="top:87.90px;font-size:11.5px;line-height:11.5px;color:#111;left:757.00px;">2 ft</div>
<div class="t" style="top:249.90px;font-size:11.5px;line-height:11.5px;color:#111;left:757.00px;">1 ft</div>
<div class="t" style="top:411.70px;font-size:11.5px;line-height:11.5px;color:#111;left:757.00px;">0 ft</div>
<div class="t" style="top:471.00px;font-size:11px;line-height:11px;color:#222;right:747.00px;">Sunrise</div>
<div class="t" style="top:471.00px;font-size:11px;line-height:11px;color:#222;left:746.40px;">Sunrise</div>
<div class="t" style="top:485.00px;font-size:11px;line-height:11px;color:#222;right:747.00px;">Sunset</div>
<div class="t" style="top:485.00px;font-size:11px;line-height:11px;color:#222;left:746.40px;">Sunset</div>
<div class="t" style="top:498.00px;font-size:11px;line-height:11px;color:#222;right:747.00px;">Moonrise</div>
<div class="t" style="top:498.00px;font-size:11px;line-height:11px;color:#222;left:746.40px;">Moonrise</div>
<div class="t" style="top:512.00px;font-size:11px;line-height:11px;color:#222;right:747.00px;">Moonset</div>
<div class="t" style="top:512.00px;font-size:11px;line-height:11px;color:#222;left:746.40px;">Moonset</div>
<div class="t" style="top:472.20px;font-size:9px;line-height:9px;color:#222;left:143.82px;letter-spacing:0.3px;">7:01am</div>
<div class="t" style="top:472.20px;font-size:9px;line-height:9px;color:#222;left:220.36px;letter-spacing:0.3px;">7:01am</div>
<div class="t" style="top:472.20px;font-size:9px;line-height:9px;color:#222;left:296.95px;letter-spacing:0.3px;">7:02am</div>
<div class="t" style="top:472.20px;font-size:9px;line-height:9px;color:#222;left:373.49px;letter-spacing:0.3px;">7:02am</div>
<div class="t" style="top:472.20px;font-size:9px;line-height:9px;color:#222;left:450.08px;letter-spacing:0.3px;">7:03am</div>
<div class="t" style="top:472.20px;font-size:9px;line-height:9px;color:#222;left:526.62px;letter-spacing:0.3px;">7:03am</div>
<div class="t" style="top:472.20px;font-size:9px;line-height:9px;color:#222;left:603.22px;letter-spacing:0.3px;">7:04am</div>
<div class="t" style="top:472.20px;font-size:9px;line-height:9px;color:#222;left:679.81px;letter-spacing:0.3px;">7:05am</div>
<div class="t" style="top:486.40px;font-size:9px;line-height:9px;color:#222;left:100.16px;letter-spacing:0.3px;">5:31pm</div>
<div class="t" style="top:486.40px;font-size:9px;line-height:9px;color:#222;left:176.70px;letter-spacing:0.3px;">5:31pm</div>
<div class="t" style="top:486.40px;font-size:9px;line-height:9px;color:#222;left:253.19px;letter-spacing:0.3px;">5:30pm</div>
<div class="t" style="top:486.40px;font-size:9px;line-height:9px;color:#222;left:329.73px;letter-spacing:0.3px;">5:30pm</div>
<div class="t" style="top:486.40px;font-size:9px;line-height:9px;color:#222;left:406.27px;letter-spacing:0.3px;">5:30pm</div>
<div class="t" style="top:486.40px;font-size:9px;line-height:9px;color:#222;left:482.76px;letter-spacing:0.3px;">5:29pm</div>
<div class="t" style="top:486.40px;font-size:9px;line-height:9px;color:#222;left:559.30px;letter-spacing:0.3px;">5:29pm</div>
<div class="t" style="top:486.40px;font-size:9px;line-height:9px;color:#222;left:635.84px;letter-spacing:0.3px;">5:29pm</div>
<div class="t" style="top:500.00px;font-size:9px;line-height:9px;color:#222;left:108.24px;letter-spacing:0.3px;">8:03pm</div>
<div class="t" style="top:500.00px;font-size:9px;line-height:9px;color:#222;left:187.55px;letter-spacing:0.3px;">8:55pm</div>
<div class="t" style="top:500.00px;font-size:9px;line-height:9px;color:#222;left:266.96px;letter-spacing:0.3px;">9:49pm</div>
<div class="t" style="top:500.00px;font-size:9px;line-height:9px;color:#222;left:346.37px;letter-spacing:0.3px;">10:43pm</div>
<div class="t" style="top:500.00px;font-size:9px;line-height:9px;color:#222;left:425.72px;letter-spacing:0.3px;">11:36pm</div>
<div class="t" style="top:500.00px;font-size:9px;line-height:9px;color:#222;left:505.13px;letter-spacing:0.3px;">12:30am</div>
<div class="t" style="top:500.00px;font-size:9px;line-height:9px;color:#222;left:584.49px;letter-spacing:0.3px;">1:23am</div>
<div class="t" style="top:500.00px;font-size:9px;line-height:9px;color:#222;left:663.85px;letter-spacing:0.3px;">2:16am</div>
<div class="t" style="top:513.20px;font-size:9px;line-height:9px;color:#222;left:74.94px;letter-spacing:0.3px;">9:27am</div>
<div class="t" style="top:513.20px;font-size:9px;line-height:9px;color:#222;left:154.35px;letter-spacing:0.3px;">10:21am</div>
<div class="t" style="top:513.20px;font-size:9px;line-height:9px;color:#222;left:233.44px;letter-spacing:0.3px;">11:09am</div>
<div class="t" style="top:513.20px;font-size:9px;line-height:9px;color:#222;left:312.26px;letter-spacing:0.3px;">11:52am</div>
<div class="t" style="top:513.20px;font-size:9px;line-height:9px;color:#222;left:390.88px;letter-spacing:0.3px;">12:31pm</div>
<div class="t" style="top:513.20px;font-size:9px;line-height:9px;color:#222;left:469.33px;letter-spacing:0.3px;">1:07pm</div>
<div class="t" style="top:513.20px;font-size:9px;line-height:9px;color:#222;left:547.63px;letter-spacing:0.3px;">1:40pm</div>
<div class="t" style="top:513.20px;font-size:9px;line-height:9px;color:#222;left:625.81px;letter-spacing:0.3px;">2:11pm</div>
<div class="t" style="top:527.00px;font-size:9px;line-height:9px;color:#222;left:52.90px;width:800px;text-align:center;letter-spacing:0.2px;">Last Quarter | 1:33pm</div>
<div class="t" style="top:251.00px;font-size:9px;line-height:9px;color:#000;left:-299.03px;width:800px;text-align:center;word-spacing:0.5px;letter-spacing:0.15px;">0.32 m</div>
<div class="t" style="top:261.00px;font-size:9px;line-height:9px;color:#000;left:-299.03px;width:800px;text-align:center;word-spacing:0.5px;letter-spacing:0.15px;">1.0 ft</div>
<div class="t" style="top:270.00px;font-size:9px;line-height:9px;color:#000;left:-299.03px;width:800px;text-align:center;word-spacing:0.5px;letter-spacing:0.15px;">7:56 pm</div>
<div class="t" style="top:189.00px;font-size:9px;line-height:9px;color:#000;left:-283.99px;width:800px;text-align:center;word-spacing:0.5px;letter-spacing:0.15px;">0.41 m</div>
<div class="t" style="top:179.00px;font-size:9px;line-height:9px;color:#000;left:-283.99px;width:800px;text-align:center;word-spacing:0.5px;letter-spacing:0.15px;">1.3 ft</div>
<div class="t" style="top:170.00px;font-size:9px;line-height:9px;color:#000;left:-283.99px;width:800px;text-align:center;word-spacing:0.5px;letter-spacing:0.15px;">12:39 am</div>
<div class="t" style="top:408.00px;font-size:9px;line-height:9px;color:#000;left:-259.96px;width:800px;text-align:center;word-spacing:0.5px;letter-spacing:0.15px;">0.03 m</div>
<div class="t" style="top:418.00px;font-size:9px;line-height:9px;color:#000;left:-259.96px;width:800px;text-align:center;word-spacing:0.5px;letter-spacing:0.15px;">0.1 ft</div>
<div class="t" style="top:427.00px;font-size:9px;line-height:9px;color:#000;left:-259.96px;width:800px;text-align:center;word-spacing:0.5px;letter-spacing:0.15px;">8:11 am</div>
<div class="t" style="top:194.00px;font-size:9px;line-height:9px;color:#000;left:-235.78px;width:800px;text-align:center;word-spacing:0.5px;letter-spacing:0.15px;">0.40 m</div>
<div class="t" style="top:184.00px;font-size:9px;line-height:9px;color:#000;left:-235.78px;width:800px;text-align:center;word-spacing:0.5px;letter-spacing:0.15px;">1.3 ft</div>
<div class="t" style="top:176.00px;font-size:9px;line-height:9px;color:#000;left:-235.78px;width:800px;text-align:center;word-spacing:0.5px;letter-spacing:0.15px;">3:46 pm</div>
<div class="t" style="top:246.00px;font-size:9px;line-height:9px;color:#000;left:-222.01px;width:800px;text-align:center;word-spacing:0.5px;letter-spacing:0.15px;">0.33 m</div>
<div class="t" style="top:256.00px;font-size:9px;line-height:9px;color:#000;left:-222.01px;width:800px;text-align:center;word-spacing:0.5px;letter-spacing:0.15px;">1.1 ft</div>
<div class="t" style="top:265.00px;font-size:9px;line-height:9px;color:#000;left:-222.01px;width:800px;text-align:center;word-spacing:0.5px;letter-spacing:0.15px;">8:05 pm</div>
<div class="t" style="top:184.00px;font-size:9px;line-height:9px;color:#000;left:-206.22px;width:800px;text-align:center;word-spacing:0.5px;letter-spacing:0.15px;">0.42 m</div>
<div class="t" style="top:174.00px;font-size:9px;line-height:9px;color:#000;left:-206.22px;width:800px;text-align:center;word-spacing:0.5px;letter-spacing:0.15px;">1.4 ft</div>
<div class="t" style="top:165.00px;font-size:9px;line-height:9px;color:#000;left:-206.22px;width:800px;text-align:center;word-spacing:0.5px;letter-spacing:0.15px;">1:02 am</div>
<div class="t" style="top:402.00px;font-size:9px;line-height:9px;color:#000;left:-181.46px;width:800px;text-align:center;word-spacing:0.5px;letter-spacing:0.15px;">0.04 m</div>
<div class="t" style="top:413.00px;font-size:9px;line-height:9px;color:#000;left:-181.46px;width:800px;text-align:center;word-spacing:0.5px;letter-spacing:0.15px;">0.1 ft</div>
<div class="t" style="top:421.00px;font-size:9px;line-height:9px;color:#000;left:-181.46px;width:800px;text-align:center;word-spacing:0.5px;letter-spacing:0.15px;">8:48 am</div>
<div class="t" style="top:211.00px;font-size:9px;line-height:9px;color:#000;left:-156.53px;width:800px;text-align:center;word-spacing:0.5px;letter-spacing:0.15px;">0.37 m</div>
<div class="t" style="top:201.00px;font-size:9px;line-height:9px;color:#000;left:-156.53px;width:800px;text-align:center;word-spacing:0.5px;letter-spacing:0.15px;">1.2 ft</div>
<div class="t" style="top:193.00px;font-size:9px;line-height:9px;color:#000;left:-156.53px;width:800px;text-align:center;word-spacing:0.5px;letter-spacing:0.15px;">4:37 pm</div>
<div class="t" style="top:240.00px;font-size:9px;line-height:9px;color:#000;left:-144.99px;width:800px;text-align:center;word-spacing:0.5px;letter-spacing:0.15px;">0.34 m</div>
<div class="t" style="top:251.00px;font-size:9px;line-height:9px;color:#000;left:-144.99px;width:800px;text-align:center;word-spacing:0.5px;letter-spacing:0.15px;">1.1 ft</div>
<div class="t" style="top:259.00px;font-size:9px;line-height:9px;color:#000;left:-144.99px;width:800px;text-align:center;word-spacing:0.5px;letter-spacing:0.15px;">8:14 pm</div>
<div class="t" style="top:184.00px;font-size:9px;line-height:9px;color:#000;left:-128.46px;width:800px;text-align:center;word-spacing:0.5px;letter-spacing:0.15px;">0.42 m</div>
<div class="t" style="top:174.00px;font-size:9px;line-height:9px;color:#000;left:-128.46px;width:800px;text-align:center;word-spacing:0.5px;letter-spacing:0.15px;">1.4 ft</div>
<div class="t" style="top:165.00px;font-size:9px;line-height:9px;color:#000;left:-128.46px;width:800px;text-align:center;word-spacing:0.5px;letter-spacing:0.15px;">1:25 am</div>
<div class="t" style="top:386.00px;font-size:9px;line-height:9px;color:#000;left:-102.63px;width:800px;text-align:center;word-spacing:0.5px;letter-spacing:0.15px;">0.07 m</div>
<div class="t" style="top:396.00px;font-size:9px;line-height:9px;color:#000;left:-102.63px;width:800px;text-align:center;word-spacing:0.5px;letter-spacing:0.15px;">0.2 ft</div>
<div class="t" style="top:405.00px;font-size:9px;line-height:9px;color:#000;left:-102.63px;width:800px;text-align:center;word-spacing:0.5px;letter-spacing:0.15px;">9:31 am</div>
<div class="t" style="top:221.00px;font-size:9px;line-height:9px;color:#000;left:-74.46px;width:800px;text-align:center;word-spacing:0.5px;letter-spacing:0.15px;">0.35 m</div>
<div class="t" style="top:211.00px;font-size:9px;line-height:9px;color:#000;left:-74.46px;width:800px;text-align:center;word-spacing:0.5px;letter-spacing:0.15px;">1.1 ft</div>
<div class="t" style="top:203.00px;font-size:9px;line-height:9px;color:#000;left:-74.46px;width:800px;text-align:center;word-spacing:0.5px;letter-spacing:0.15px;">6:21 pm</div>
<div class="t" style="top:235.00px;font-size:9px;line-height:9px;color:#000;left:-69.36px;width:800px;text-align:center;word-spacing:0.5px;letter-spacing:0.15px;">0.35 m</div>
<div class="t" style="top:245.00px;font-size:9px;line-height:9px;color:#000;left:-69.36px;width:800px;text-align:center;word-spacing:0.5px;letter-spacing:0.15px;">1.1 ft</div>
<div class="t" style="top:254.00px;font-size:9px;line-height:9px;color:#000;left:-69.36px;width:800px;text-align:center;word-spacing:0.5px;letter-spacing:0.15px;">7:57 pm</div>
<div class="t" style="top:189.00px;font-size:9px;line-height:9px;color:#000;left:-51.18px;width:800px;text-align:center;word-spacing:0.5px;letter-spacing:0.15px;">0.41 m</div>
<div class="t" style="top:179.00px;font-size:9px;line-height:9px;color:#000;left:-51.18px;width:800px;text-align:center;word-spacing:0.5px;letter-spacing:0.15px;">1.3 ft</div>
<div class="t" style="top:170.00px;font-size:9px;line-height:9px;color:#000;left:-51.18px;width:800px;text-align:center;word-spacing:0.5px;letter-spacing:0.15px;">1:39 am</div>
<div class="t" style="top:364.00px;font-size:9px;line-height:9px;color:#000;left:-23.11px;width:800px;text-align:center;word-spacing:0.5px;letter-spacing:0.15px;">0.11 m</div>
<div class="t" style="top:375.00px;font-size:9px;line-height:9px;color:#000;left:-23.11px;width:800px;text-align:center;word-spacing:0.5px;letter-spacing:0.15px;">0.4 ft</div>
<div class="t" style="top:383.00px;font-size:9px;line-height:9px;color:#000;left:-23.11px;width:800px;text-align:center;word-spacing:0.5px;letter-spacing:0.15px;">10:27 am</div>
<div class="t" style="top:200.00px;font-size:9px;line-height:9px;color:#000;left:23.45px;width:800px;text-align:center;word-spacing:0.5px;letter-spacing:0.15px;">0.39 m</div>
<div class="t" style="top:190.00px;font-size:9px;line-height:9px;color:#000;left:23.45px;width:800px;text-align:center;word-spacing:0.5px;letter-spacing:0.15px;">1.3 ft</div>
<div class="t" style="top:181.00px;font-size:9px;line-height:9px;color:#000;left:23.45px;width:800px;text-align:center;word-spacing:0.5px;letter-spacing:0.15px;">1:03 am</div>
<div class="t" style="top:348.00px;font-size:9px;line-height:9px;color:#000;left:58.58px;width:800px;text-align:center;word-spacing:0.5px;letter-spacing:0.15px;">0.14 m</div>
<div class="t" style="top:359.00px;font-size:9px;line-height:9px;color:#000;left:58.58px;width:800px;text-align:center;word-spacing:0.5px;letter-spacing:0.15px;">0.5 ft</div>
<div class="t" style="top:367.00px;font-size:9px;line-height:9px;color:#000;left:58.58px;width:800px;text-align:center;word-spacing:0.5px;letter-spacing:0.15px;">12:04 pm</div>
<div class="t" style="top:200.00px;font-size:9px;line-height:9px;color:#000;left:94.25px;width:800px;text-align:center;word-spacing:0.5px;letter-spacing:0.15px;">0.39 m</div>
<div class="t" style="top:190.00px;font-size:9px;line-height:9px;color:#000;left:94.25px;width:800px;text-align:center;word-spacing:0.5px;letter-spacing:0.15px;">1.3 ft</div>
<div class="t" style="top:182.00px;font-size:9px;line-height:9px;color:#000;left:94.25px;width:800px;text-align:center;word-spacing:0.5px;letter-spacing:0.15px;">11:15 pm</div>
<div class="t" style="top:343.00px;font-size:9px;line-height:9px;color:#000;left:143.31px;width:800px;text-align:center;word-spacing:0.5px;letter-spacing:0.15px;">0.15 m</div>
<div class="t" style="top:353.00px;font-size:9px;line-height:9px;color:#000;left:143.31px;width:800px;text-align:center;word-spacing:0.5px;letter-spacing:0.15px;">0.5 ft</div>
<div class="t" style="top:362.00px;font-size:9px;line-height:9px;color:#000;left:143.31px;width:800px;text-align:center;word-spacing:0.5px;letter-spacing:0.15px;">2:38 pm</div>
<div class="t" style="top:189.00px;font-size:9px;line-height:9px;color:#000;left:170.63px;width:800px;text-align:center;word-spacing:0.5px;letter-spacing:0.15px;">0.41 m</div>
<div class="t" style="top:179.00px;font-size:9px;line-height:9px;color:#000;left:170.63px;width:800px;text-align:center;word-spacing:0.5px;letter-spacing:0.15px;">1.3 ft</div>
<div class="t" style="top:171.00px;font-size:9px;line-height:9px;color:#000;left:170.63px;width:800px;text-align:center;word-spacing:0.5px;letter-spacing:0.15px;">11:12 pm</div>
<div class="t" style="top:273.00px;font-size:9px;line-height:9px;color:#000;left:192.21px;width:800px;text-align:center;word-spacing:0.5px;letter-spacing:0.15px;">0.28 m</div>
<div class="t" style="top:283.00px;font-size:9px;line-height:9px;color:#000;left:192.21px;width:800px;text-align:center;word-spacing:0.5px;letter-spacing:0.15px;">0.9 ft</div>
<div class="t" style="top:292.00px;font-size:9px;line-height:9px;color:#000;left:192.21px;width:800px;text-align:center;word-spacing:0.5px;letter-spacing:0.15px;">5:58 am</div>
<div class="t" style="top:248.00px;font-size:9px;line-height:9px;color:#000;left:202.57px;width:800px;text-align:center;word-spacing:0.5px;letter-spacing:0.15px;">0.30 m</div>
<div class="t" style="top:238.00px;font-size:9px;line-height:9px;color:#000;left:202.57px;width:800px;text-align:center;word-spacing:0.5px;letter-spacing:0.15px;">1.0 ft</div>
<div class="t" style="top:229.00px;font-size:9px;line-height:9px;color:#000;left:202.57px;width:800px;text-align:center;word-spacing:0.5px;letter-spacing:0.15px;">9:13 am</div>
<div class="t" style="top:348.00px;font-size:9px;line-height:9px;color:#000;left:224.63px;width:800px;text-align:center;word-spacing:0.5px;letter-spacing:0.15px;">0.14 m</div>
<div class="t" style="top:359.00px;font-size:9px;line-height:9px;color:#000;left:224.63px;width:800px;text-align:center;word-spacing:0.5px;letter-spacing:0.15px;">0.5 ft</div>
<div class="t" style="top:367.00px;font-size:9px;line-height:9px;color:#000;left:224.63px;width:800px;text-align:center;word-spacing:0.5px;letter-spacing:0.15px;">4:08 pm</div>
<div class="t" style="top:184.00px;font-size:9px;line-height:9px;color:#000;left:248.28px;width:800px;text-align:center;word-spacing:0.5px;letter-spacing:0.15px;">0.42 m</div>
<div class="t" style="top:174.00px;font-size:9px;line-height:9px;color:#000;left:248.28px;width:800px;text-align:center;word-spacing:0.5px;letter-spacing:0.15px;">1.4 ft</div>
<div class="t" style="top:166.00px;font-size:9px;line-height:9px;color:#000;left:248.28px;width:800px;text-align:center;word-spacing:0.5px;letter-spacing:0.15px;">11:33 pm</div>
<div class="t" style="top:294.00px;font-size:9px;line-height:9px;color:#000;left:268.06px;width:800px;text-align:center;word-spacing:0.5px;letter-spacing:0.15px;">0.24 m</div>
<div class="t" style="top:305.00px;font-size:9px;line-height:9px;color:#000;left:268.06px;width:800px;text-align:center;word-spacing:0.5px;letter-spacing:0.15px;">0.8 ft</div>
<div class="t" style="top:313.00px;font-size:9px;line-height:9px;color:#000;left:268.06px;width:800px;text-align:center;word-spacing:0.5px;letter-spacing:0.15px;">5:45 am</div>
<div class="t" style="top:227.00px;font-size:9px;line-height:9px;color:#000;left:283.79px;width:800px;text-align:center;word-spacing:0.5px;letter-spacing:0.15px;">0.34 m</div>
<div class="t" style="top:217.00px;font-size:9px;line-height:9px;color:#000;left:283.79px;width:800px;text-align:center;word-spacing:0.5px;letter-spacing:0.15px;">1.1 ft</div>
<div class="t" style="top:208.00px;font-size:9px;line-height:9px;color:#000;left:283.79px;width:800px;text-align:center;word-spacing:0.5px;letter-spacing:0.15px;">10:41 am</div>
</div>
</div></body></html>
